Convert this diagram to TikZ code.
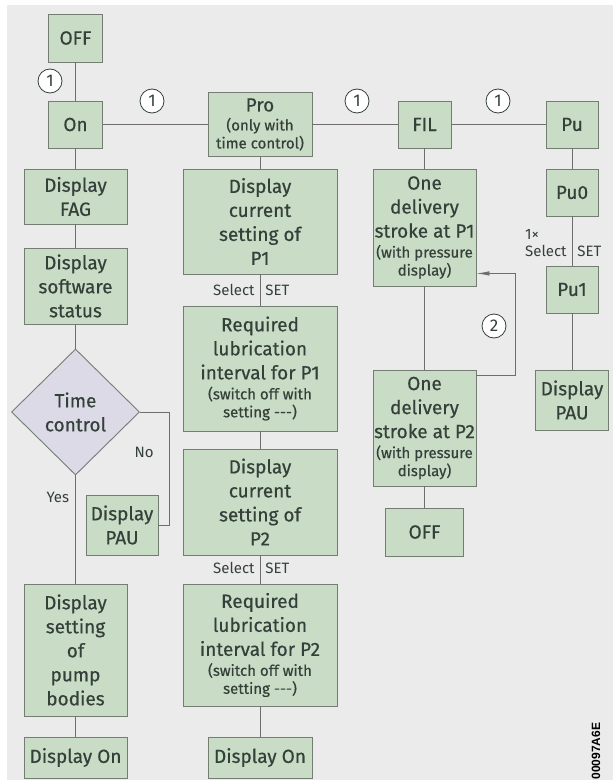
\documentclass[tikz,border=0pt]{standalone}
\usepackage{fontspec}
\setmainfont{Fira Sans}
\newfontfamily\boxfont{Fira Sans}[FakeBold=0.5]
\newfontfamily\codefont{Liberation Sans}
\usetikzlibrary{shapes.geometric,arrows.meta}
\definecolor{bggray}{HTML}{EBEBEB}
\definecolor{boxfill}{HTML}{C9DCC6}
\definecolor{boxedge}{HTML}{737D72}
\definecolor{diafill}{HTML}{DDDAE8}
\definecolor{txtgray}{HTML}{34403A}
\definecolor{linegray}{HTML}{6E6E6E}
\newcommand\sm[1]{{\fontsize{15}{18}\selectfont #1}}
\begin{document}
\begin{tikzpicture}[x=1pt,y=-1pt,
    box/.style={draw=boxedge,fill=boxfill,line width=0.9pt,text=txtgray,
      align=center,inner sep=1pt,font=\boxfont\fontsize{19}{24}\selectfont},
    choice/.style={box,diamond,fill=diafill},
    conn/.style={draw=linegray,line width=0.8pt},
    num/.style={circle,draw=txtgray,fill=white,line width=0.8pt,minimum size=24pt,
      inner sep=0pt,text=txtgray,font=\fontsize{17}{17}\selectfont},
    lbl/.style={inner sep=0pt,text=txtgray,font=\fontsize{15}{17}\selectfont}]
    \useasboundingbox (0,0) rectangle (613,781);
    %% Background
    \fill[bggray] (7,5) rectangle (613,780);
    %% Top row
    \node[box,minimum width=54,minimum height=48] (off1) at (75.5,38) {OFF};
    \node[box,minimum width=54,minimum height=47] (on) at (75.5,124.5) {On};
    \node[box,minimum width=104,minimum height=64] (pro) at (260,124.5) {Pro\\[-5pt]\sm{(only with}\\[-6pt]\sm{time control)}};
    \node[box,minimum width=53,minimum height=47] (fil) at (424.5,124.5) {FIL};
    \node[box,minimum width=52,minimum height=47] (pu) at (572,124.5) {Pu};
    %% Left column
    \node[box,minimum width=103,minimum height=55] (fag) at (75.5,196.5) {Display\\FAG};
    \node[box,minimum width=103,minimum height=76] (soft) at (75.5,286) {Display\\software\\status};
    \node[choice,minimum width=128,minimum height=126,inner sep=0pt] (time) at (75.5,412) {Time\\control};
    \node[box,minimum width=72,minimum height=60] (pau1) at (122,525) {Display\\PAU};
    \node[box,minimum width=103,minimum height=132] (pump) at (75.5,650) {Display\\setting\\of\\pump\\bodies};
    \node[box,minimum width=103,minimum height=41] (don1) at (75.5,757.5) {Display On};
    %% Middle column
    \node[box,minimum width=154,minimum height=105] (cur1) at (260,221.5) {Display\\current\\setting of\\P1};
    \node[box,minimum width=154,minimum height=125] (req1) at (260,368.5) {Required\\lubrication\\interval for P1\\[-4pt]\sm{(switch off with}\\[-6pt]\sm{setting -{}-{}-)}};
    \node[box,minimum width=154,minimum height=106] (cur2) at (260,502) {Display\\current\\setting of\\P2};
    \node[box,minimum width=154,minimum height=122] (req2) at (260,645) {Required\\lubrication\\interval for P2\\[-4pt]\sm{(switch off with}\\[-6pt]\sm{setting -{}-{}-)}};
    \node[box,minimum width=104,minimum height=41] (don2) at (260,757.5) {Display On};
    %% FIL column
    \node[box,minimum width=103,minimum height=117] (one1) at (424.5,227.5) {One\\delivery\\stroke at P1\\[-4pt]\sm{(with pressure}\\[-6pt]\sm{display)}};
    \node[box,minimum width=103,minimum height=116] (one2) at (424.5,428) {One\\delivery\\stroke at P2\\[-4pt]\sm{(with pressure}\\[-6pt]\sm{display)}};
    \node[box,minimum width=78,minimum height=48] (off2) at (424.5,532) {OFF};
    %% Pu column
    \node[box,minimum width=52,minimum height=47] (pu0) at (572,192.5) {Pu0};
    \node[box,minimum width=52,minimum height=47] (pu1) at (572,289.5) {Pu1};
    \node[box,minimum width=73,minimum height=60] (pau2) at (572,400) {Display\\PAU};
    %% Connections
    \draw[conn] (off1) -- (on);
    \draw[conn] (on) -- (pro);
    \draw[conn] (pro) -- (fil);
    \draw[conn] (fil) -- (pu);
    \draw[conn] (on) -- (fag);
    \draw[conn] (fag) -- (soft);
    \draw[conn] (soft) -- (time);
    \draw[conn] (time) -- (pump) node[lbl,pos=0.2,left=6pt] {Yes};
    \draw[conn] (time.east) -- ++(29,0) |- (pau1.east) node[lbl,pos=0.18,left=15pt] {No};
    \draw[conn] (pump) -- (don1);
    \draw[conn] (pro) -- (cur1);
    \draw[conn] (cur1) -- (req1) node[lbl,pos=0.5,left=5pt] {Select} node[lbl,pos=0.5,right=5pt] {SET};
    \draw[conn] (req1) -- (cur2);
    \draw[conn] (cur2) -- (req2) node[lbl,pos=0.45,left=5pt] {Select} node[lbl,pos=0.45,right=5pt] {SET};
    \draw[conn] (req2) -- (don2);
    \draw[conn] (fil) -- (one1);
    \draw[conn] (one1) -- (one2);
    \draw[conn] (one2) -- (off2);
    \draw[conn,-{Latex[length=13pt,width=4.5pt]}] ([yshift=-6pt]one2.north east) -- ++(39,0) |- ([yshift=13pt]one1.south east);
    \draw[conn] (pu) -- (pu0);
    \draw[conn] (pu0) -- (pu1) node[lbl,pos=0.55,left=5pt,align=left] {1×\\Select} node[lbl,pos=0.72,right=5pt] {SET};
    \draw[conn] (pu1) -- (pau2);
    %% Step numbers
    \node[num] (n1) at (50,81) {1};
    \node[num] (n2) at (152,101) {1};
    \node[num] (n3) at (357,101) {1};
    \node[num] (n4) at (498,101) {1};
    \node[num] (n5) at (494,326) {2};
    %% Drawing code
    \node[rotate=90,inner sep=0pt,font=\codefont\bfseries\fontsize{12}{12}\selectfont] (code) at (596,751) {00097A6E};
\end{tikzpicture}
\end{document}
